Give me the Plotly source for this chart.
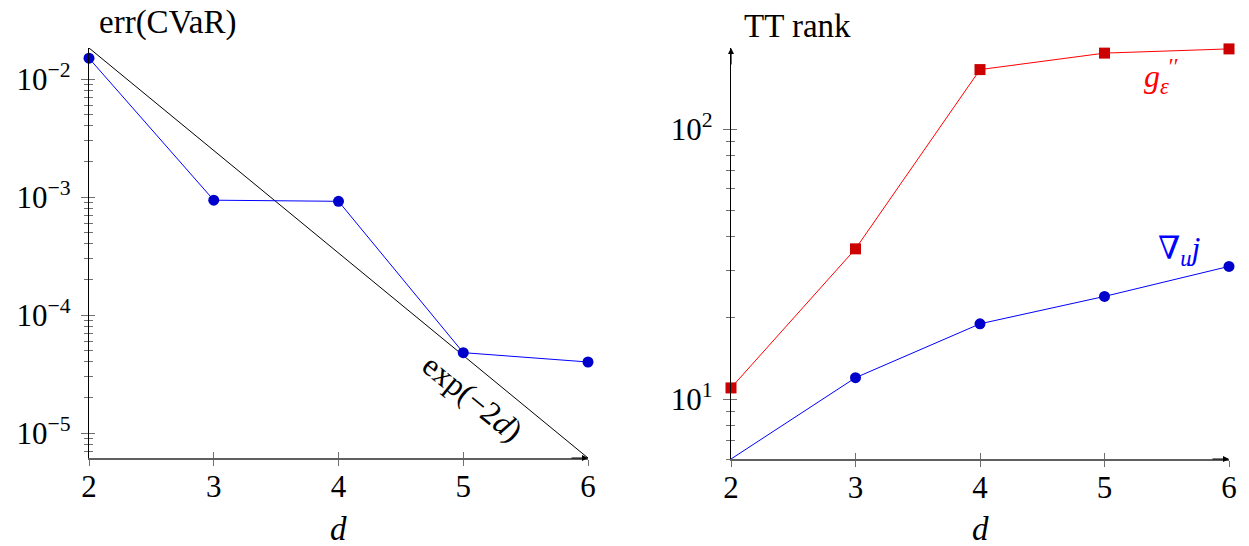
import plotly.graph_objects as go

W, H = 1249, 546
OFF = 8   # the page body adds an 8px margin round the figure
FONT = "'Liberation Serif', 'DejaVu Serif', serif"

# ---- data
d = [2, 3, 4, 5, 6]
err_cvar = [1.5e-2, 9.4e-4, 9.2e-4, 4.8e-5, 4.0e-5]
ref_d = [2, 6]
ref_exp = [1.832e-2, 6.144e-6]          # exp(-2d) at d = 2 and d = 6
rank_g = [11, 36, 166, 191, 198]
rank_grad = [6, 12, 19, 24, 31]

BLUE, BLUE_M = "#0000ff", "#0000cc"
RED, RED_M = "#ff0000", "#cc0000"


def px(x):
    return (x - OFF) / W


def py(y):
    return 1 - (y - OFF) / H


def minor_vals(lo, hi):
    return [m * 10.0 ** e for e in range(lo, hi) for m in range(2, 10)]


fig = go.Figure()

# left panel
fig.add_trace(go.Scatter(x=ref_d, y=ref_exp, mode="lines",
                         line=dict(color="black", width=1), xaxis="x", yaxis="y",
                         showlegend=False, hoverinfo="skip", cliponaxis=False))
fig.add_trace(go.Scatter(x=d, y=err_cvar, mode="lines+markers",
                         line=dict(color=BLUE, width=1),
                         marker=dict(symbol="circle", size=11, color=BLUE_M),
                         xaxis="x", yaxis="y", showlegend=False, cliponaxis=False))
# right panel
fig.add_trace(go.Scatter(x=d, y=rank_g, mode="lines+markers",
                         line=dict(color=RED, width=1),
                         marker=dict(symbol="square", size=11, color=RED_M),
                         xaxis="x2", yaxis="y2", showlegend=False, cliponaxis=False))
fig.add_trace(go.Scatter(x=d, y=rank_grad, mode="lines+markers",
                         line=dict(color=BLUE, width=1),
                         marker=dict(symbol="circle", size=11, color=BLUE_M),
                         xaxis="x2", yaxis="y2", showlegend=False, cliponaxis=False))
# empty traces so the overlay axes (inner half of the ticks) get drawn
for xa, ya in (("x3", "y3"), ("x4", "y4")):
    fig.add_trace(go.Scatter(x=[None], y=[None], xaxis=xa, yaxis=ya,
                             showlegend=False, hoverinfo="skip"))

tickfont = dict(family=FONT, size=31, color="black")
L_RANGE = [-5.2115, -1.7372]
R_RANGE = [0.7782, 2.300]
XDOM_L = [px(89), px(588)]
XDOM_R = [px(731), px(1229)]
YDOM_L = [py(458), py(48)]
YDOM_R = [py(459), py(48)]
TICKC = "#707070"

xcommon = dict(range=[2, 6], tickvals=d, showgrid=False, zeroline=False,
               automargin=False)
xmain = dict(xcommon, showline=True, linecolor="#606060", linewidth=1.8,
             ticks="outside", ticklen=6, tickcolor=TICKC, tickwidth=1,
             tickfont=tickfont, ticklabelstandoff=-6)
xover = dict(xcommon, showline=False, ticks="inside", ticklen=6,
             tickcolor=TICKC, tickwidth=1, showticklabels=False)

ycommon = dict(type="log", showgrid=False, zeroline=False, automargin=False)
ymain = dict(ycommon, showline=True, linecolor="black", linewidth=1.2,
             ticks="outside", ticklen=7, tickcolor=TICKC, tickwidth=1,
             tickfont=tickfont, ticklabelstandoff=4)
yover = dict(ycommon, showline=False, ticks="inside", ticklen=6,
             tickcolor=TICKC, tickwidth=1, showticklabels=False)

l_major = [1e-5, 1e-4, 1e-3, 1e-2]
l_text = ["10<sup>−5</sup>", "10<sup>−4</sup>", "10<sup>−3</sup>", "10<sup>−2</sup>"]
r_major = [10, 100]
r_text = ["10<sup>1</sup>", "10<sup>2</sup>"]
l_minor = [v for v in minor_vals(-6, -1) if 6.1e-6 <= v <= 1.84e-2]
r_minor = [v for v in minor_vals(0, 3) if 6 <= v <= 200]


def ylog(base, major, text, minor, side_ticks, mlen):
    return dict(base, tickmode="array", tickvals=major, ticktext=text,
                minor=dict(tickmode="array", tickvals=minor, ticks=side_ticks,
                           ticklen=mlen, tickcolor=TICKC, tickwidth=1))


fig.update_layout(
    width=W, height=H, margin=dict(l=0, r=0, t=0, b=0, autoexpand=False),
    plot_bgcolor="white", paper_bgcolor="white",
    font=dict(family=FONT, color="black"),
    xaxis=dict(xmain, domain=XDOM_L, anchor="y"),
    yaxis=dict(ylog(ymain, l_major, l_text, l_minor, "outside", 4),
               domain=YDOM_L, anchor="x", range=L_RANGE),
    xaxis2=dict(xmain, domain=XDOM_R, anchor="y2"),
    yaxis2=dict(ylog(ymain, r_major, r_text, r_minor, "outside", 4),
                domain=YDOM_R, anchor="x2", range=R_RANGE),
    xaxis3=dict(xover, domain=XDOM_L, anchor="y3", overlaying="x"),
    yaxis3=dict(ylog(yover, l_major, l_text, l_minor, "inside", 4),
                domain=YDOM_L, anchor="x3", overlaying="y", range=L_RANGE),
    xaxis4=dict(xover, domain=XDOM_R, anchor="y4", overlaying="x2"),
    yaxis4=dict(ylog(yover, r_major, r_text, r_minor, "inside", 4),
                domain=YDOM_R, anchor="x4", overlaying="y2", range=R_RANGE),
)

ann = []
# axis labels
ann.append(dict(text="err(CVaR)", x=px(97), y=py(22), xref="paper", yref="paper",
                xanchor="left", yanchor="middle", showarrow=False,
                font=dict(size=33)))
ann.append(dict(text="TT rank", x=px(742), y=py(26), xref="paper", yref="paper",
                xanchor="left", yanchor="middle", showarrow=False,
                font=dict(size=33)))
for xc in (338.5, 980):
    ann.append(dict(text="<i>d</i>", x=px(xc), y=py(529), xref="paper", yref="paper",
                    xanchor="center", yanchor="middle", showarrow=False,
                    font=dict(size=33)))
# curve labels
ann.append(dict(text="exp(−2<i>d</i>)", x=5.08, y=-4.70, xref="x", yref="y",
                textangle=39, showarrow=False, font=dict(size=32)))
ann.append(dict(text="<i>g</i><sub><i>ε</i></sub><sup>′′</sup>", x=5.46, y=2.196,
                xref="x2", yref="y2", showarrow=False,
                font=dict(size=32, color=RED)))
ann.append(dict(text="∇<sub><i>u</i></sub><i>j</i>", x=5.6, y=1.55,
                xref="x2", yref="y2", showarrow=False,
                font=dict(size=32, color=BLUE)))
# axis arrow heads
for xr, yr in (("x", "y"), ("x2", "y2")):
    ann.append(dict(x=6, y=0, xref=xr, yref=f"{yr} domain", ax=-18, ay=0,
                    axref="pixel", ayref="pixel", text="", showarrow=True,
                    arrowhead=2, arrowsize=1, arrowwidth=1.2, arrowcolor="black"))
ann.append(dict(x=2, y=1, xref="x2", yref="y2 domain", ax=0, ay=18,
                text="", showarrow=True, arrowhead=2, arrowsize=1,
                arrowwidth=1.2, arrowcolor="black"))
fig.update_layout(annotations=ann)

fig.write_html("out.html")
